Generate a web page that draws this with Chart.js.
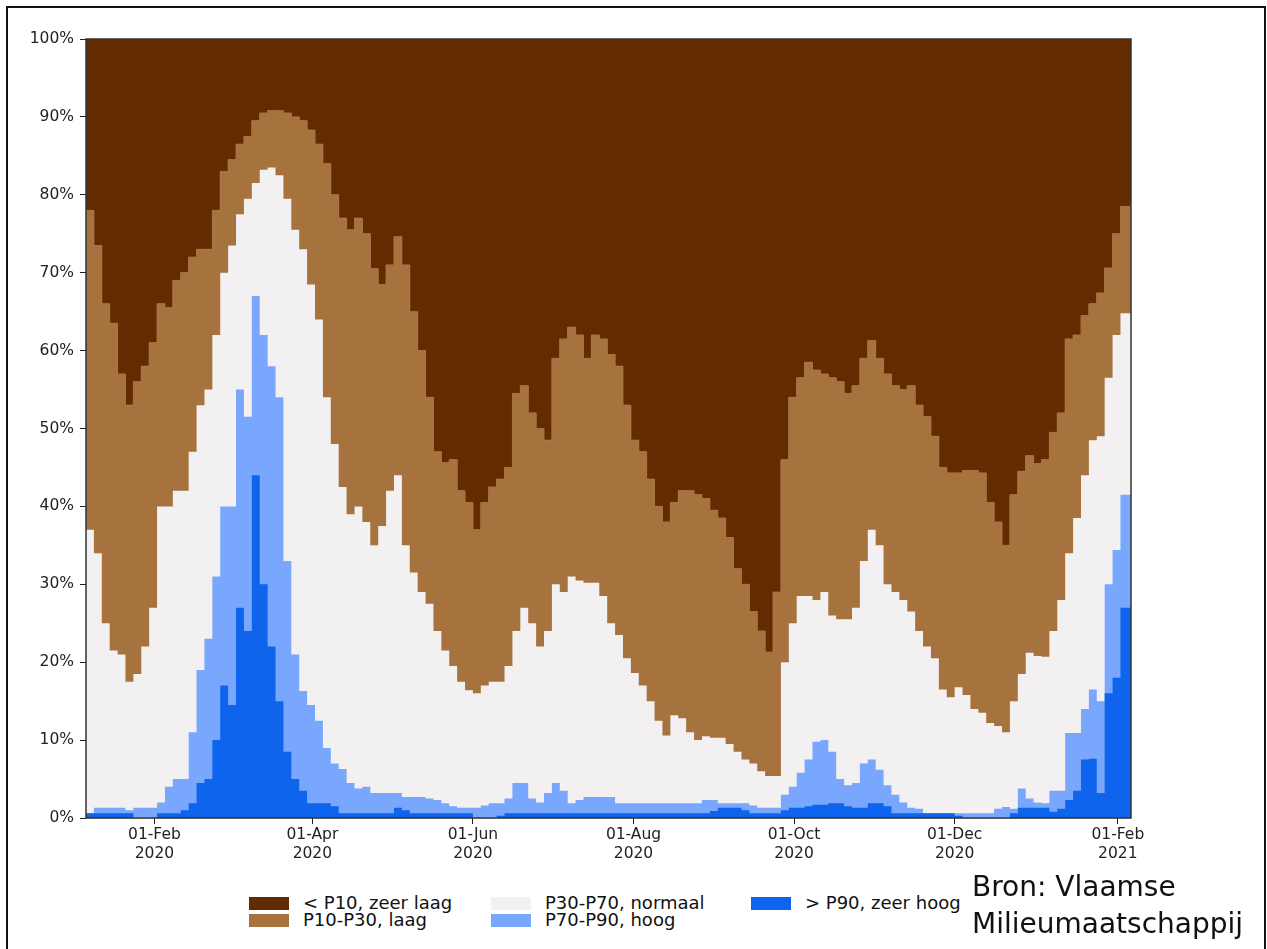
<!DOCTYPE html>
<html>
<head>
<meta charset="utf-8">
<script src="https://cdn.jsdelivr.net/npm/chart.js@4.4.1/dist/chart.umd.min.js"></script>
<style>
  body { margin: 0; background: #fff; font-family: "DejaVu Sans", sans-serif; color: #111; }
  #frame { position: absolute; left: 6px; top: 6px; width: 1256px; height: 960px; border: 2px solid #111; border-bottom: none; }
  #wrap { position: absolute; left: 0; top: 0; width: 1267px; height: 880px; }
  .item { position: absolute; display: flex; align-items: center; height: 16px; font-size: 18px; line-height: 16px; white-space: nowrap; }
  .sw { display: inline-block; width: 40px; height: 13px; margin-right: 14px; }
  #bron { position: absolute; left: 972px; top: 868px; font-size: 28px; line-height: 37px; }
</style>
</head>
<body>
<div id="frame"></div>
<div id="wrap"><canvas id="chart"></canvas></div>

<div class="item" style="left:249px; top:895px"><span class="sw" style="background:#632b00"></span>&lt; P10, zeer laag</div>
<div class="item" style="left:249px; top:912px"><span class="sw" style="background:#a6723e"></span>P10-P30, laag</div>
<div class="item" style="left:491px; top:895px"><span class="sw" style="background:#f2f0f0"></span>P30-P70, normaal</div>
<div class="item" style="left:491px; top:912px"><span class="sw" style="background:#79a7fd"></span>P70-P90, hoog</div>
<div class="item" style="left:751px; top:895px"><span class="sw" style="background:#0e64ec"></span>&gt; P90, zeer hoog</div>
<div id="bron">Bron: Vlaamse<br>Milieumaatschappij</div>

<script>
// days since 01-Jan-2020, one reading every 3 days
const days = [];
for (let i = 0; i < 132; i++) days.push(5 + 3 * i);
days.push(402);

// cumulative shares (%), bottom class upwards
const topZeerHoog = [
  0.6, 0.6, 0.6, 0.6, 0.6, 0.6, 0, 0, 0, 0.6,
  0.6, 0.6, 1.0, 1.9, 4.5, 5, 10, 17, 14.5, 27,
  24, 44, 30, 22, 15, 8.5, 5, 3.5, 1.9, 1.9,
  1.9, 1.5, 0.6, 0.6, 0.6, 0.6, 0.6, 0.6, 0.6, 1.3,
  1.0, 0.6, 0.6, 0.6, 0.6, 0.6, 0.6, 0.6, 0.6, 0,
  0, 0, 0.3, 0.6, 0.6, 0.6, 0.6, 0.6, 0.6, 0.6,
  0.6, 0.6, 0.6, 0.6, 0.6, 0.6, 0.6, 0.6, 0.6, 0.6,
  0.6, 0.6, 0.6, 0.6, 0.6, 0.6, 0.6, 0.6, 0.6, 0.9,
  1.3, 1.3, 1.3, 1.0, 0.6, 0.6, 0.6, 0.6, 1.0, 1.3,
  1.3, 1.5, 1.7, 1.7, 1.9, 1.9, 1.5, 1.3, 1.3, 1.9,
  1.9, 1.5, 0.6, 0.6, 0.6, 0.6, 0.6, 0.6, 0.6, 0.6,
  0.3, 0, 0, 0, 0, 0, 0, 0.6, 1.3, 1.3,
  1.3, 1.3, 0.8, 1.2, 2.3, 3.5, 7.5, 7.6, 3.2, 16,
  18, 27, 23.3
];
const topHoog = [
  0.6, 1.3, 1.3, 1.3, 1.3, 1.0, 1.3, 1.3, 1.3, 2.0,
  4, 5, 5, 11, 19, 23, 31, 40, 40, 55,
  51.5, 67, 62, 58, 54, 33, 21, 16.3, 14.5, 12.5,
  9, 7, 6.3, 4.5, 3.8, 4, 3.2, 3.2, 3.2, 3.2,
  2.7, 2.7, 2.7, 2.5, 2.3, 1.9, 1.5, 1.3, 1.3, 1.3,
  1.6, 1.9, 1.9, 2.5, 4.5, 4.5, 2.5, 2, 3.2, 4.5,
  3.5, 1.9, 2.3, 2.7, 2.7, 2.7, 2.7, 1.9, 1.9, 1.9,
  1.9, 1.9, 1.9, 1.9, 1.9, 1.9, 1.9, 1.9, 2.3, 2.3,
  1.9, 1.9, 1.9, 1.9, 1.6, 1.3, 1.3, 1.3, 3, 4,
  5.8, 7.5, 9.8, 10, 8.5, 5, 4.2, 4.5, 7, 7.5,
  6.2, 4.2, 3, 2, 1.3, 1.2, 0.6, 0.6, 0.6, 0.6,
  0.6, 0.6, 0.6, 0.6, 0.6, 1.2, 1.4, 1.2, 3.8, 2.5,
  2, 1.9, 3.5, 3.5, 10.9, 10.9, 14, 16.5, 15, 30,
  34.4, 41.5, 40.8
];
const topNormaal = [
  37, 34, 25, 21.5, 21, 17.5, 18.5, 22, 27, 40,
  40, 42, 42, 47, 53, 55, 62, 70, 73.5, 77.5,
  79.5, 81.5, 83.2, 83.5, 82.5, 79.5, 75.5, 73, 68.5, 64,
  54, 48, 42.5, 39, 40, 38, 35, 37.5, 42, 44,
  35, 31.5, 29, 27.5, 24, 21.5, 19.5, 17.5, 16.4, 16,
  17, 17.5, 17.5, 19.5, 24, 27, 25, 22, 24, 30,
  29, 31, 30.5, 30.2, 30.2, 28.5, 25, 23.5, 20.5, 18.6,
  17, 15, 12.5, 10.6, 13.2, 12.8, 11, 10, 10.5, 10.3,
  10.3, 9.5, 8.5, 7.5, 7, 6, 5.4, 5.4, 20, 25,
  28.5, 28.5, 28, 29, 26, 25.5, 25.5, 27, 33, 37,
  35, 30, 29, 28, 26.5, 24, 22, 20.5, 16.5, 15.5,
  16.8, 15.8, 14, 13.5, 12.2, 11.8, 11, 15, 18.5, 21.2,
  20.8, 20.7, 24, 28, 34, 38.5, 44, 48.5, 49, 56.5,
  62, 64.8, 65
];
const topLaag = [
  78, 73.5, 66, 63.5, 57, 53, 56, 58, 61, 66,
  65.5, 69, 70, 72, 73, 73, 78, 83, 84.5, 86.5,
  87.5, 89.5, 90.5, 90.8, 90.8, 90.5, 90, 89.5, 88.3, 86.5,
  84, 80, 77, 75.5, 77, 75, 70.5, 68.5, 71, 74.6,
  71, 65, 60, 54, 47, 45.6, 46, 42, 40.5, 37,
  40.5, 42.5, 43.5, 45, 54.5, 55.5, 52, 50, 48.5, 59,
  61.5, 63, 62, 59, 62, 61.5, 59.5, 58, 53, 48.5,
  47, 43.5, 40, 38, 40.5, 42, 42, 41.5, 41, 39.5,
  38.5, 36, 32, 30, 26.5, 24, 21.3, 29, 46, 54,
  56.5, 58.5, 57.5, 57, 56.5, 56, 54.5, 55.5, 59, 61.3,
  59, 57, 55.5, 55, 55.5, 53, 51.5, 49, 45, 44.3,
  44.3, 44.6, 44.6, 44.3, 40.5, 38, 35, 41.5, 44.5, 46.5,
  45.5, 46, 49.5, 52, 61.5, 62, 64.5, 66, 67.4, 70.6,
  75, 78.5, 79
];

const tickDays = [31, 91, 152, 213, 274, 335, 397];
const tickLabels = [
  ["01-Feb", "2020"], ["01-Apr", "2020"], ["01-Jun", "2020"], ["01-Aug", "2020"],
  ["01-Oct", "2020"], ["01-Dec", "2020"], ["01-Feb", "2021"]
];

const colZeerLaag = "#632b00";
const colLaag = "#a6723e";
const colNormaal = "#f2f0f0";
const colHoog = "#79a7fd";
const colZeerHoog = "#0e64ec";
const gridColor = "rgba(205,180,150,0.35)";

const pts = (arr) => arr.map((v, i) => ({ x: days[i], y: v }));

function layer(data, color, fill, border) {
  return {
    data: pts(data),
    backgroundColor: color,
    borderColor: color,
    borderWidth: border || 0,
    pointRadius: 0,
    stepped: true,
    fill: fill,
  };
}

const plotFrame = {
  id: "plotFrame",
  afterDraw(chart) {
    const { ctx, chartArea: a } = chart;
    ctx.save();
    ctx.strokeStyle = "#333";
    ctx.lineWidth = 1.5;
    ctx.strokeRect(a.left, a.top, a.right - a.left, a.bottom - a.top);
    ctx.restore();
  },
};

new Chart(document.getElementById("chart"), {
  type: "line",
  data: {
    datasets: [
      layer(topZeerHoog, colZeerHoog, "origin"),
      layer(topHoog, colHoog, "origin"),
      layer(topNormaal, colNormaal, "origin"),
      layer(topLaag, colLaag, "origin", 1),
      layer(topLaag, colZeerLaag, "end"),
    ],
  },
  options: {
    responsive: true,
    maintainAspectRatio: false,
    animation: false,
    layout: { padding: { left: 20, right: 136, top: 39, bottom: 22 } },
    plugins: {
      legend: { display: false },
      tooltip: { enabled: false },
    },
    scales: {
      x: {
        type: "linear",
        min: 5,
        max: 402,
        z: 1,
        afterBuildTicks: (axis) => {
          axis.ticks = tickDays.map((v) => ({ value: v }));
        },
        afterFit: (s) => { s.height = 40; },
        ticks: {
          autoSkip: false,
          maxRotation: 0,
          padding: 2,
          color: "#222",
          font: { family: "DejaVu Sans", size: 15.5, lineHeight: 1.2 },
          callback: (v) => tickLabels[tickDays.indexOf(v)],
        },
        grid: { color: gridColor, tickColor: "#222", tickLength: 6 },
        border: { display: false },
      },
      y: {
        min: 0,
        max: 100,
        z: 1,
        afterFit: (s) => { s.width = 66; },
        ticks: {
          stepSize: 10,
          padding: 6,
          color: "#222",
          font: { family: "DejaVu Sans", size: 15.5 },
          callback: (v) => v + "%",
        },
        grid: { color: gridColor, tickColor: "#222", tickLength: 6 },
        border: { display: false },
      },
    },
  },
  plugins: [plotFrame],
});
</script>
</body>
</html>
